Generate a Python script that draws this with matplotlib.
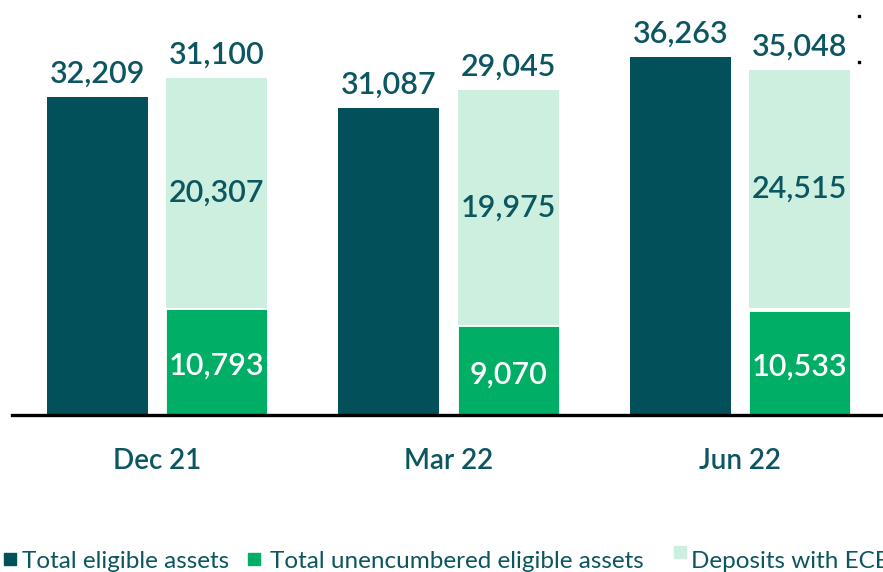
import matplotlib.pyplot as plt
import matplotlib.patches as mpatches
from matplotlib.lines import Line2D
import numpy as np

plt.rcParams['font.family'] = ['Lato', 'DejaVu Sans']

categories = ['Dec 21', 'Mar 22', 'Jun 22']
total_eligible = [32209, 31087, 36263]
unencumbered = [10793, 9070, 10533]
deposits = [20307, 19975, 24515]
deposits_total = [31100, 29045, 35048]
# the light bars in the source are not drawn to scale; bottom/top
deposits_bottom = [10850, 9130, 10850]
deposits_top = [34180, 32960, 34990]

dark = '#02505A'
green = '#00AE66'
mint = '#CCEFDF'
txt = '#0B5660'

fig = plt.figure(figsize=(8.83, 5.72), dpi=100)
ax = fig.add_axes([12 / 883, 157 / 572, 1 - 12 / 883, 415 / 572])

x = np.arange(len(categories))
off = 0.205
w = 0.347

ax.bar(x - off, total_eligible, w, color=dark)
ax.bar(x + off, unencumbered, w, color=green, edgecolor='white', linewidth=0.6)
ax.bar(x + off, np.subtract(deposits_top, deposits_bottom), w,
       bottom=deposits_bottom, color=mint)

lbl = dict(fontsize=22, fontweight='semibold')
for i in range(len(categories)):
    ax.annotate(f'{total_eligible[i]:,}', (x[i] - off, total_eligible[i]),
                xytext=(0, 7), textcoords='offset points', ha='center',
                va='bottom', color=txt, **lbl)
    ax.annotate(f'{deposits_total[i]:,}', (x[i] + off, deposits_top[i]),
                xytext=(0, 7), textcoords='offset points', ha='center',
                va='bottom', color=txt, **lbl)
    ax.text(x[i] + off, (deposits_bottom[i] + deposits_top[i]) / 2,
            f'{deposits[i]:,}', ha='center', va='center', color=txt, **lbl)
    ax.text(x[i] + off, unencumbered[i] / 2 - 400, f'{unencumbered[i]:,}',
            ha='center', va='center', color='white', **lbl)

ax.set_xlim(-0.497, 2.49)
ax.set_ylim(0, 42090)
ax.set_xticks(x)
ax.set_xticklabels(categories, fontsize=20, color=txt, fontweight='semibold')
ax.tick_params(axis='x', length=0, pad=24)
ax.set_yticks([])
for s in ['top', 'right', 'left']:
    ax.spines[s].set_visible(False)
ax.spines['bottom'].set_linewidth(2.4)
ax.spines['bottom'].set_color('black')

# legend drawn by hand along the bottom edge
legend_items = [('Total eligible assets', dark, 4, 22, 553),
                ('Total unencumbered eligible assets', green, 248, 270, 553),
                ('Deposits with ECB', mint, 674, 691, 546)]
for label, col, sx, tx, sy in legend_items:
    fig.patches.append(mpatches.Rectangle((sx / 883, 1 - (sy + 12) / 572), 12 / 883, 12 / 572,
                                          transform=fig.transFigure, color=col))
    fig.text(tx / 883, 1 - 561 / 572, label, fontsize=17.5, color=txt,
             ha='left', va='center')

# two stray dots at top right of the source image
for yy in [16, 62]:
    fig.add_artist(Line2D([859 / 883], [1 - yy / 572], marker='s', markersize=2,
                          color='black', transform=fig.transFigure))

fig.savefig('out.png', dpi=100)
